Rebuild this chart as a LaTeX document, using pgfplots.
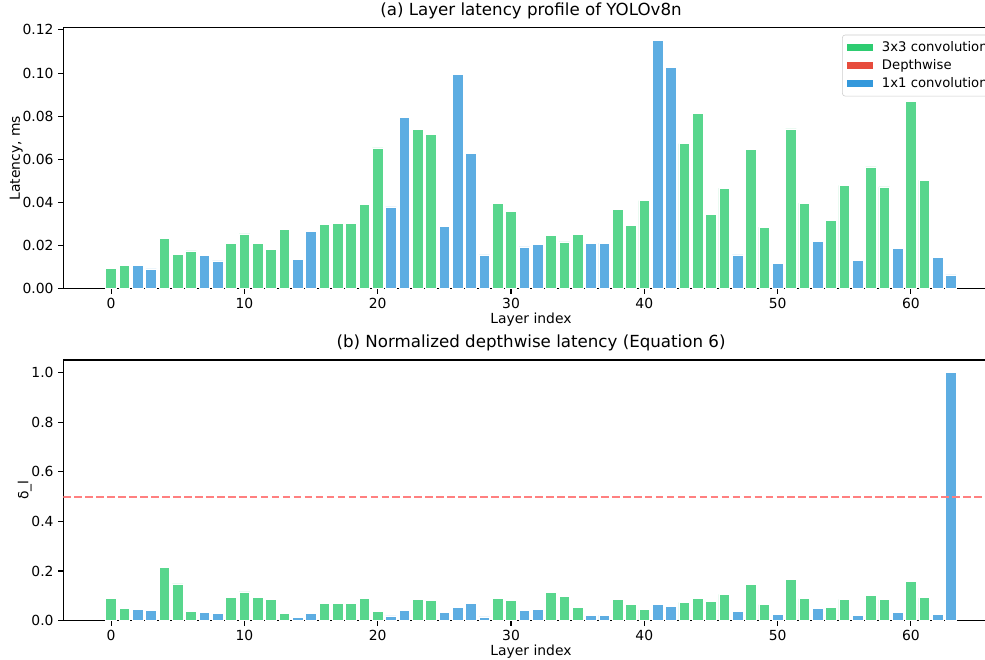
\documentclass[border=0pt]{standalone}
\usepackage{fontspec}
\setmainfont{DejaVu Sans}
\usepackage{pgfplots}
\usepackage{pgfplotstable}
\pgfplotsset{compat=1.18}

\definecolor{gfill}{RGB}{88,214,141}
\definecolor{bfill}{RGB}{93,173,226}
\definecolor{gleg}{HTML}{2ECC71}
\definecolor{rleg}{HTML}{E74C3C}
\definecolor{bleg}{HTML}{3498DB}
\definecolor{thr}{RGB}{255,128,128}

% idx latency delta
\pgfplotstableread{
idx lat delta
0 0.0095 0.088
1 0.0110 0.050
4 0.0234 0.215
5 0.0161 0.148
6 0.0175 0.039
9 0.0212 0.094
10 0.0254 0.116
11 0.0212 0.094
12 0.0183 0.084
13 0.0276 0.030
16 0.0298 0.069
17 0.0301 0.069
18 0.0301 0.069
19 0.0390 0.088
20 0.0653 0.037
23 0.0738 0.084
24 0.0716 0.081
29 0.0394 0.088
30 0.0360 0.081
33 0.0247 0.113
34 0.0217 0.098
35 0.0251 0.054
38 0.0369 0.084
39 0.0293 0.066
40 0.0408 0.044
43 0.0673 0.074
44 0.0813 0.090
45 0.0344 0.077
46 0.0467 0.106
48 0.0645 0.145
49 0.0286 0.065
51 0.0741 0.167
52 0.0397 0.089
54 0.0315 0.054
55 0.0479 0.086
57 0.0565 0.102
58 0.0472 0.084
60 0.0868 0.157
61 0.0504 0.092
}\greentab

\pgfplotstableread{
idx lat delta
2 0.0107 0.047
3 0.0092 0.042
7 0.0153 0.034
8 0.0129 0.030
14 0.0135 0.014
15 0.0265 0.030
21 0.0379 0.019
22 0.0794 0.043
25 0.0288 0.033
26 0.0994 0.054
27 0.0628 0.070
28 0.0157 0.015
31 0.0194 0.043
32 0.0205 0.044
36 0.0212 0.022
37 0.0212 0.022
41 0.1152 0.065
42 0.1025 0.058
47 0.0157 0.037
50 0.0116 0.026
53 0.0220 0.049
56 0.0132 0.022
59 0.0188 0.034
62 0.0146 0.026
63 0.0064 1.000
}\bluetab

\pgfplotsset{
  mpl/.style={
    scale only axis,
    width=673.5pt,
    xmin=-3.59, xmax=66.59, ymin=0,
    axis y line*=left,
    xtick pos=left,
    tick align=outside,
    major tick length=3.5pt,
    tick style={black, line width=0.8pt},
    axis line style={black, line width=0.8pt},
    xtick={0,10,...,60},
    /pgf/number format/assume math mode=true,
    ticklabel style={font=\fontsize{10}{12}\selectfont},
    label style={font=\fontsize{10}{12}\selectfont},
    title style={font=\fontsize{12}{14}\selectfont, inner sep=0pt},
    xlabel={Layer index},
    xlabel shift=-4pt,
    ylabel shift=-7pt,
  },
  gbar/.style={ybar, bar shift=0pt, bar width=0.8, fill=gfill, draw=white, line width=0.5pt, forget plot},
  bbar/.style={ybar, bar shift=0pt, bar width=0.8, fill=bfill, draw=white, line width=0.5pt, forget plot},
}

\begin{document}
\begin{tikzpicture}
\useasboundingbox (0pt,0pt) rectangle (709.2pt,475.2pt);
\clip (0pt,0pt) rectangle (709.2pt,475.2pt);

\begin{axis}[mpl,
  at={(45.58pt,267.3pt)}, anchor=south west,
  height=187.9pt,
  ymax=0.121,
  ytick={0,0.02,...,0.121},
  yticklabel style={/pgf/number format/.cd, fixed, fixed zerofill, precision=2},
  ylabel={Latency, ms},
  title={(a) Layer latency profile of YOLOv8n},
  legend style={at={(axis cs:54.84,0.121)}, anchor=north west, yshift=-5pt,
    draw=black!20, rounded corners=2pt, fill=white, fill opacity=0.8, text opacity=1,
    font=\fontsize{9.5}{11.5}\selectfont, inner xsep=3pt, inner ysep=2.5pt, row sep=0pt,
    nodes={inner ysep=1.75pt, text height=7.5pt, text depth=2pt},
    /tikz/every odd column/.append style={column sep=4.5pt}},
  legend cell align=left,
]
\addplot[gbar] table[x=idx, y=lat] {\greentab};
\addplot[bbar] table[x=idx, y=lat] {\bluetab};
\addlegendimage{legend image code/.code={\fill[gleg, draw=none, fill opacity=1, sharp corners] (0pt,-2.25pt) rectangle (19pt,2.25pt);}}
\addlegendentry{3x3 convolution}
\addlegendimage{legend image code/.code={\fill[rleg, draw=none, fill opacity=1, sharp corners] (0pt,-2.25pt) rectangle (19pt,2.25pt);}}
\addlegendentry{Depthwise}
\addlegendimage{legend image code/.code={\fill[bleg, draw=none, fill opacity=1, sharp corners] (0pt,-2.25pt) rectangle (19pt,2.25pt);}}
\addlegendentry{1x1 convolution}
\end{axis}

\begin{axis}[mpl,
  at={(45.58pt,28.3pt)}, anchor=south west,
  height=187.7pt,
  ymax=1.05,
  ytick={0,0.2,0.4,0.6,0.8,1.0},
  yticklabel style={/pgf/number format/.cd, fixed, fixed zerofill, precision=1},
  ylabel={δ\_l},
  title={(b) Normalized depthwise latency (Equation 6)},
]
\addplot[gbar] table[x=idx, y=delta] {\greentab};
\addplot[bbar] table[x=idx, y=delta] {\bluetab};
\addplot[thr, line width=1.5pt, dash pattern=on 5.5pt off 2.4pt, forget plot] coordinates {(-3.59,0.5) (66.59,0.5)};
\end{axis}
\end{tikzpicture}
\end{document}
